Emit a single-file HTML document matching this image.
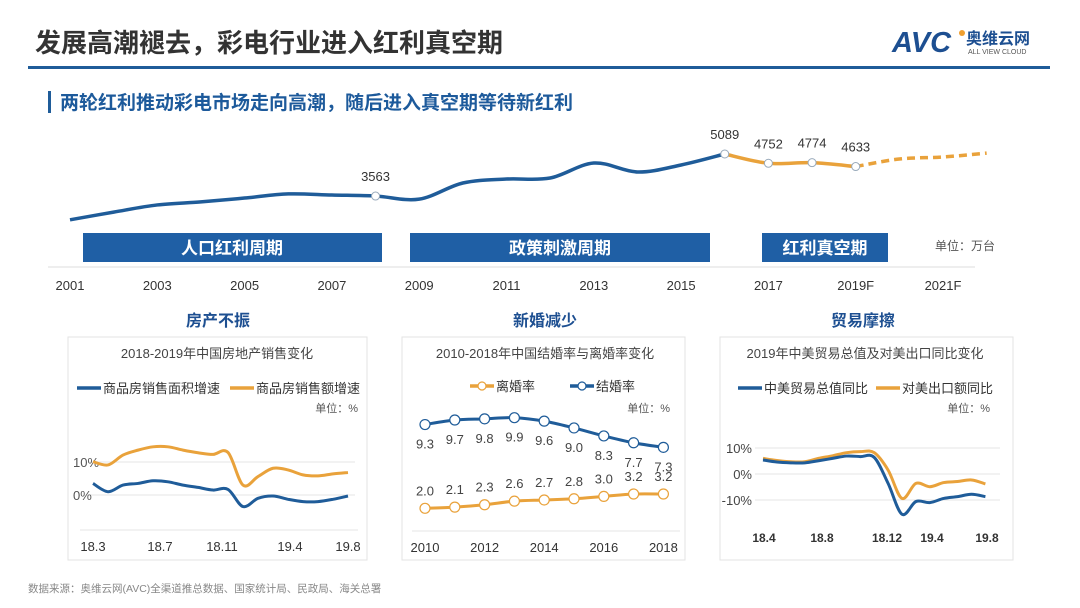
<!DOCTYPE html>
<html><head><meta charset="utf-8"><style>
html,body{margin:0;padding:0;background:#fff;width:1080px;height:608px;overflow:hidden;}
svg{display:block;overflow:hidden;}
svg text{font-family:"Liberation Sans","Noto Sans CJK SC",sans-serif;}
</style></head><body>
<svg id="s" width="1080" height="608" viewBox="0 0 1080 608" xmlns="http://www.w3.org/2000/svg">
<rect width="1080" height="608" fill="#fff"/>
<text x="35" y="52" font-size="26" font-weight="bold" fill="#333">发展高潮褪去，彩电行业进入红利真空期</text>
<g>
<text x="892" y="52" font-size="29" font-weight="bold" font-style="italic" fill="#1d4f91">AVC</text>
<circle cx="962" cy="33" r="3" fill="#f0a030"/>
<text x="966" y="44" font-size="16" font-weight="bold" fill="#1d4f91">奥维云网</text>
<text x="968" y="54" font-size="7" fill="#555">ALL VIEW CLOUD</text>
</g>
<rect x="28" y="66" width="1022" height="3" fill="#1f5c99"/>
<rect x="48" y="91" width="3" height="22" fill="#1f5c99"/>
<text x="60" y="109" font-size="19" font-weight="bold" fill="#1d5a9b">两轮红利推动彩电市场走向高潮，随后进入真空期等待新红利</text>

<g id="main"></g>
<g>
<rect x="83" y="233" width="299" height="29" fill="#1f5fa5"/><text x="232" y="254" font-size="17" font-weight="bold" fill="#fff" text-anchor="middle">人口红利周期</text>
<rect x="410" y="233" width="300" height="29" fill="#1f5fa5"/><text x="560" y="254" font-size="17" font-weight="bold" fill="#fff" text-anchor="middle">政策刺激周期</text>
<rect x="762" y="233" width="126" height="29" fill="#1f5fa5"/><text x="825" y="254" font-size="17" font-weight="bold" fill="#fff" text-anchor="middle">红利真空期</text>
<text x="935" y="250" font-size="12" fill="#555">单位：万台</text>
</g>
<line x1="48" y1="267" x2="975" y2="267" stroke="#ddd" stroke-width="1"/>

<text x="218" y="326" font-size="16" font-weight="bold" fill="#1d4f91" text-anchor="middle">房产不振</text>
<text x="545" y="326" font-size="16" font-weight="bold" fill="#1d4f91" text-anchor="middle">新婚减少</text>
<text x="863" y="326" font-size="16" font-weight="bold" fill="#1d4f91" text-anchor="middle">贸易摩擦</text>

<rect x="68" y="337" width="299" height="223" fill="none" stroke="#e3e3e3"/>
<rect x="402" y="337" width="283" height="223" fill="none" stroke="#e3e3e3"/>
<rect x="720" y="337" width="293" height="223" fill="none" stroke="#e3e3e3"/>
<g id="c1"></g>
<g id="c2"></g>
<g id="c3"></g>
<text x="28" y="592" font-size="10.5" fill="#888">数据来源：奥维云网(AVC)全渠道推总数据、国家统计局、民政局、海关总署</text>
</svg>
<script>
const mainYears=[2001,2002,2003,2004,2005,2006,2007,2008,2009,2010,2011,2012,2013,2014,2015,2016,2017,2018,2019,2020,2021,2022];
const mainValues=[2700,2980,3240,3350,3490,3640,3600,3563,3450,4036,4180,4218,4762,4436,4690,5089,4752,4774,4633,4908,4980,5120];
const mainTickLabels=["2001","2003","2005","2007","2009","2011","2013","2015","2017","2019F","2021F"];
const mainLabeled=[2008,2016,2017,2018,2019];

const houseValuesArea=[3.5,1.0,3.0,3.5,4.3,4.0,3.0,2.3,1.5,1.7,-3.5,-1.0,-0.3,-1.3,-2.0,-2.0,-1.3,-0.3];
const houseValuesAmount=[10.1,9.1,12.1,13.6,14.6,14.6,13.6,12.8,12.3,12.9,3.0,5.6,8.1,7.6,6.1,5.8,6.4,6.8];
const houseTickLabels=["18.3","18.7","18.11","19.4","19.8"];

const marriageYears=[2010,2011,2012,2013,2014,2015,2016,2017,2018];
const marriageRate=[9.3,9.7,9.8,9.9,9.6,9.0,8.3,7.7,7.3];
const divorceRate=[2.0,2.1,2.3,2.6,2.7,2.8,3.0,3.2,3.2];

const tradeTotal=[5.4,4.6,4.3,4.3,5.1,6.0,6.9,6.7,6.4,-3.6,-15.5,-10.6,-11.0,-9.4,-8.7,-7.8,-8.7];
const tradeExport=[6.0,5.2,4.7,4.7,6.0,7.0,8.2,8.6,8.2,1.5,-9.4,-3.6,-4.9,-3.3,-2.9,-2.3,-3.8];
const tradeTickLabels=["18.4","18.8","18.12","19.4","19.8"];

const NS="http://www.w3.org/2000/svg";
function mk(tag,attrs,parent,txt){const e=document.createElementNS(NS,tag);for(const k in attrs)e.setAttribute(k,attrs[k]);if(txt!==undefined)e.textContent=txt;parent.appendChild(e);return e;}
function smooth(pts){let d="M"+pts[0][0]+","+pts[0][1];for(let i=0;i<pts.length-1;i++){const p0=pts[i-1]||pts[i],p1=pts[i],p2=pts[i+1],p3=pts[i+2]||p2;const c1=[p1[0]+(p2[0]-p0[0])/6,p1[1]+(p2[1]-p0[1])/6],c2=[p2[0]-(p3[0]-p1[0])/6,p2[1]-(p3[1]-p1[1])/6];d+=" C"+c1[0]+","+c1[1]+" "+c2[0]+","+c2[1]+" "+p2[0]+","+p2[1];}return d;}
const BLUE="#1f5c99",ORANGE="#e9a23b";

(function(){const g=document.getElementById('main');
const x=y=>70+(y-2001)*43.65, y=v=>154+(5089-v)/36.3;
const pts=mainYears.map((yr,i)=>[x(yr),y(mainValues[i])]);
const i16=mainYears.indexOf(2016),i19=mainYears.indexOf(2019);
let p=mk('path',{d:smooth(pts.slice(0,i16+1)),fill:'none',stroke:BLUE,'stroke-width':3.5},g);

p=mk('path',{d:smooth(pts.slice(i16,i19+1)),fill:'none',stroke:ORANGE,'stroke-width':3.5},g);

p=mk('path',{d:smooth(pts.slice(i19)),fill:'none',stroke:ORANGE,'stroke-width':3.5,'stroke-dasharray':'8 5'},g);

mainLabeled.forEach(yr=>{const i=mainYears.indexOf(yr);
const c=mk('circle',{cx:pts[i][0],cy:pts[i][1],r:4,fill:'#fff',stroke:'#9ab',"stroke-width":1},g);

const t=mk('text',{x:pts[i][0],y:pts[i][1]-15,'font-size':13,fill:'#333','text-anchor':'middle'},g,String(mainValues[i]));
});
mainTickLabels.forEach((l,i)=>{const t=mk('text',{x:x(2001+2*i),y:290,'font-size':13,fill:'#333','text-anchor':'middle'},g,l);
});
})();

function legendLine(g,x0,y0,color,label,marker){const l=mk('line',{x1:x0,y1:y0,x2:x0+24,y2:y0,stroke:color,'stroke-width':3.5},g);

if(marker){const c=mk('circle',{cx:x0+12,cy:y0,r:4,fill:'#fff',stroke:color,'stroke-width':1.2},g);}
const t=mk('text',{x:x0+26,y:y0+5,'font-size':13,fill:'#333'},g,label);}

(function(){const g=document.getElementById('c1');
const x=i=>93+i*15, y=v=>495-v*3.3;
let t=mk('text',{x:217,y:358,'font-size':13,fill:'#444','text-anchor':'middle'},g,'2018-2019年中国房地产销售变化');
legendLine(g,77,388,BLUE,'商品房销售面积增速');legendLine(g,230,388,ORANGE,'商品房销售额增速');
t=mk('text',{x:358,y:412,'font-size':11,fill:'#555','text-anchor':'end'},g,'单位：%');
[10,0].forEach(v=>{const l=mk('line',{x1:88,x2:355,y1:y(v),y2:y(v),stroke:'#e5e5e5'},g);
const tt=mk('text',{x:73,y:y(v)+5,'font-size':13,fill:'#555'},g,v+'%');});
const b=mk('line',{x1:80,x2:358,y1:530,y2:530,stroke:'#e5e5e5'},g);
let p=mk('path',{d:smooth(houseValuesAmount.map((v,i)=>[x(i),y(v)])),fill:'none',stroke:ORANGE,'stroke-width':3},g);
p=mk('path',{d:smooth(houseValuesArea.map((v,i)=>[x(i),y(v)])),fill:'none',stroke:BLUE,'stroke-width':3},g);
const tx=[93,160,222,290,348];
houseTickLabels.forEach((l,i)=>{const tt=mk('text',{x:tx[i],y:551,'font-size':13,fill:'#333','text-anchor':'middle','font-family':'Liberation Mono,monospace'},g,l);});
})();

(function(){const g=document.getElementById('c2');
const x=yr=>425+(yr-2010)*29.8, ym=v=>417.7+(9.9-v)*11.4, yd=v=>508.3-(v-2)*11.9;
let t=mk('text',{x:545,y:358,'font-size':13,fill:'#444','text-anchor':'middle'},g,'2010-2018年中国结婚率与离婚率变化');
legendLine(g,470,386,ORANGE,'离婚率',true);legendLine(g,570,386,BLUE,'结婚率',true);
t=mk('text',{x:670,y:412,'font-size':11,fill:'#555','text-anchor':'end'},g,'单位：%');
const b=mk('line',{x1:412,x2:680,y1:531,y2:531,stroke:'#e5e5e5'},g);
const mp=marriageYears.map((yr,i)=>[x(yr),ym(marriageRate[i])]), dp=marriageYears.map((yr,i)=>[x(yr),yd(divorceRate[i])]);
let p=mk('path',{d:smooth(mp),fill:'none',stroke:BLUE,'stroke-width':3},g);
p=mk('path',{d:smooth(dp),fill:'none',stroke:ORANGE,'stroke-width':3},g);
marriageYears.forEach((yr,i)=>{
let c=mk('circle',{cx:mp[i][0],cy:mp[i][1],r:5,fill:'#fff',stroke:BLUE,'stroke-width':1.2},g);
c=mk('circle',{cx:dp[i][0],cy:dp[i][1],r:5,fill:'#fff',stroke:ORANGE,'stroke-width':1.2},g);
let tt=mk('text',{x:mp[i][0],y:mp[i][1]+24,'font-size':13,fill:'#444','text-anchor':'middle'},g,marriageRate[i].toFixed(1));
tt=mk('text',{x:dp[i][0],y:dp[i][1]-13,'font-size':13,fill:'#444','text-anchor':'middle'},g,divorceRate[i].toFixed(1));
if(i%2===0){tt=mk('text',{x:x(yr),y:552,'font-size':13,fill:'#333','text-anchor':'middle'},g,String(yr));}
});
})();

(function(){const g=document.getElementById('c3');
const x=i=>763+i*13.9, y=v=>474-v*2.6;
let t=mk('text',{x:865,y:358,'font-size':13,fill:'#444','text-anchor':'middle'},g,'2019年中美贸易总值及对美出口同比变化');
legendLine(g,738,388,BLUE,'中美贸易总值同比');legendLine(g,876,388,ORANGE,'对美出口额同比');
t=mk('text',{x:990,y:412,'font-size':11,fill:'#555','text-anchor':'end'},g,'单位：%');
[10,0,-10].forEach(v=>{const l=mk('line',{x1:755,x2:1000,y1:y(v),y2:y(v),stroke:'#e5e5e5'},g);
const tt=mk('text',{x:752,y:y(v)+5,'font-size':13,fill:'#444','text-anchor':'end'},g,v+'%');});
let p=mk('path',{d:smooth(tradeExport.map((v,i)=>[x(i),y(v)])),fill:'none',stroke:ORANGE,'stroke-width':3},g);
p=mk('path',{d:smooth(tradeTotal.map((v,i)=>[x(i),y(v)])),fill:'none',stroke:BLUE,'stroke-width':3},g);
const tx=[764,822,887,932,987];
tradeTickLabels.forEach((l,i)=>{const tt=mk('text',{x:tx[i],y:542,'font-size':12,'font-weight':'bold',fill:'#333','text-anchor':'middle'},g,l);});
})();
</script>
</body></html>
